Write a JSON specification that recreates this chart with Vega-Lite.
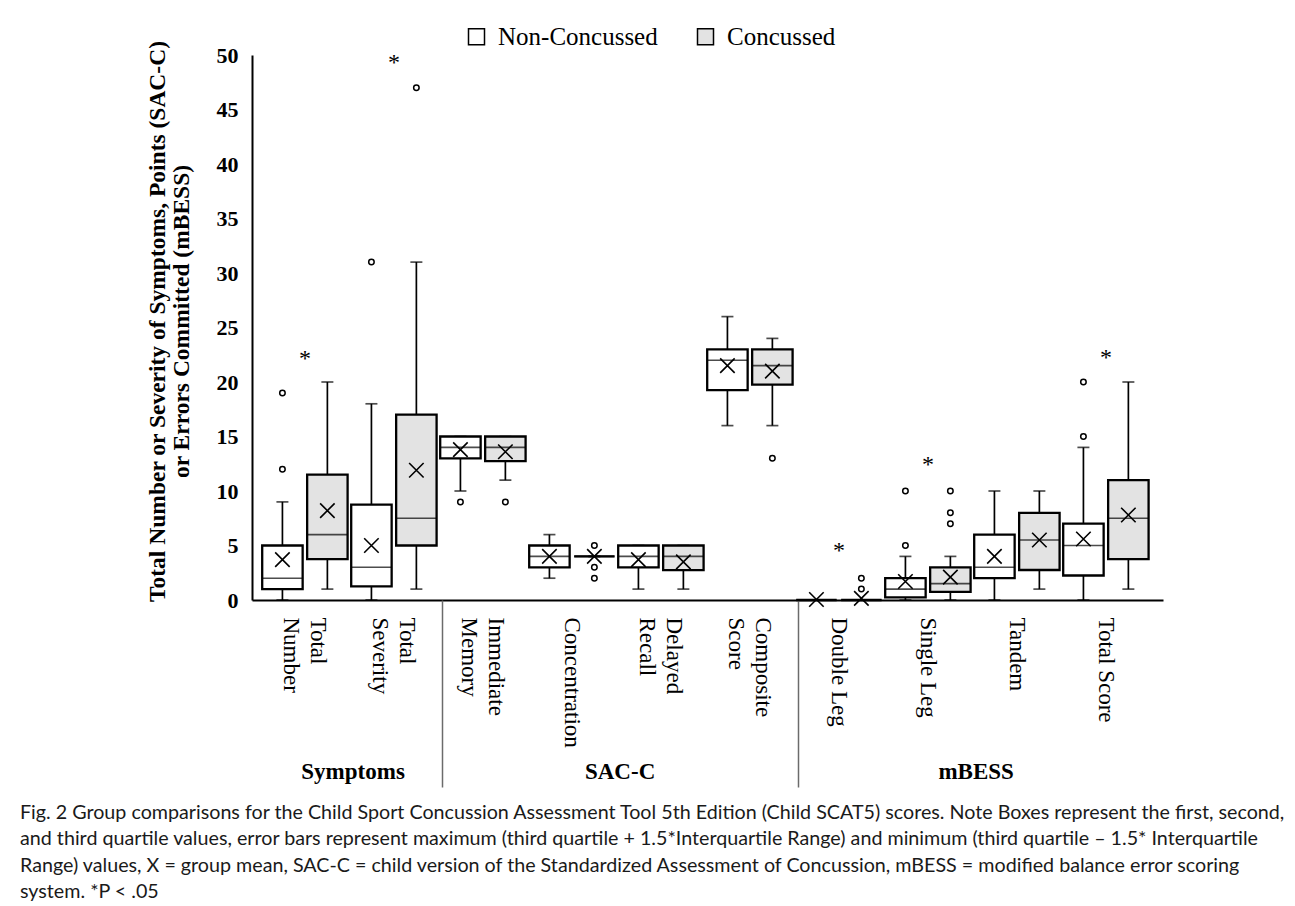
{
  "$schema": "https://vega.github.io/schema/vega-lite/v6.json",
  "width": 911,
  "height": 545,
  "autosize": {"type": "none"},
  "padding": {"left": 252, "top": 55, "right": 132, "bottom": 306},
  "background": "white",
  "config": {"view": {"stroke": null}, "font": "Liberation Serif"},
  "datasets": {
    "boxes": [
      {"measure": "Total Number", "group": "Non-Concussed", "lower": 0, "q1": 1, "median": 2, "q3": 5, "upper": 9, "mean": 3.7},
      {"measure": "Total Number", "group": "Concussed", "lower": 1, "q1": 3.75, "median": 6, "q3": 11.5, "upper": 20, "mean": 8.2},
      {"measure": "Total Severity", "group": "Non-Concussed", "lower": 0, "q1": 1.25, "median": 3, "q3": 8.75, "upper": 18, "mean": 5.0},
      {"measure": "Total Severity", "group": "Concussed", "lower": 1, "q1": 5, "median": 7.5, "q3": 17, "upper": 31, "mean": 11.9},
      {"measure": "Immediate Memory", "group": "Non-Concussed", "lower": 10, "q1": 13, "median": 14, "q3": 15, "upper": 15, "mean": 13.8},
      {"measure": "Immediate Memory", "group": "Concussed", "lower": 11, "q1": 12.75, "median": 14, "q3": 15, "upper": 15, "mean": 13.6},
      {"measure": "Concentration", "group": "Non-Concussed", "lower": 2, "q1": 3, "median": 4, "q3": 5, "upper": 6, "mean": 4.0},
      {"measure": "Concentration", "group": "Concussed", "lower": 4, "q1": 4, "median": 4, "q3": 4, "upper": 4, "mean": 4.0},
      {"measure": "Delayed Recall", "group": "Non-Concussed", "lower": 1, "q1": 3, "median": 4, "q3": 5, "upper": 5, "mean": 3.7},
      {"measure": "Delayed Recall", "group": "Concussed", "lower": 1, "q1": 2.75, "median": 4, "q3": 5, "upper": 5, "mean": 3.5},
      {"measure": "Composite Score", "group": "Non-Concussed", "lower": 16, "q1": 19.25, "median": 22, "q3": 23, "upper": 26, "mean": 21.5},
      {"measure": "Composite Score", "group": "Concussed", "lower": 16, "q1": 19.75, "median": 21.5, "q3": 23, "upper": 24, "mean": 21.0},
      {"measure": "Double Leg", "group": "Non-Concussed", "lower": 0, "q1": 0, "median": 0, "q3": 0, "upper": 0, "mean": 0.05},
      {"measure": "Double Leg", "group": "Concussed", "lower": 0, "q1": 0, "median": 0, "q3": 0, "upper": 0, "mean": 0.15},
      {"measure": "Single Leg", "group": "Non-Concussed", "lower": 0, "q1": 0.25, "median": 1, "q3": 2, "upper": 4, "mean": 1.7},
      {"measure": "Single Leg", "group": "Concussed", "lower": 0, "q1": 0.75, "median": 1.5, "q3": 3, "upper": 4, "mean": 2.1},
      {"measure": "Tandem", "group": "Non-Concussed", "lower": 0, "q1": 2, "median": 3, "q3": 6, "upper": 10, "mean": 4.0},
      {"measure": "Tandem", "group": "Concussed", "lower": 1, "q1": 2.75, "median": 5.5, "q3": 8, "upper": 10, "mean": 5.5},
      {"measure": "Total Score", "group": "Non-Concussed", "lower": 0, "q1": 2.25, "median": 5, "q3": 7, "upper": 14, "mean": 5.6},
      {"measure": "Total Score", "group": "Concussed", "lower": 1, "q1": 3.75, "median": 7.5, "q3": 11, "upper": 20, "mean": 7.8}
    ],
    "outliers": [
      {"measure": "Total Number", "group": "Non-Concussed", "value": 12},
      {"measure": "Total Number", "group": "Non-Concussed", "value": 19},
      {"measure": "Total Severity", "group": "Non-Concussed", "value": 31},
      {"measure": "Total Severity", "group": "Concussed", "value": 47},
      {"measure": "Immediate Memory", "group": "Non-Concussed", "value": 9},
      {"measure": "Immediate Memory", "group": "Concussed", "value": 9},
      {"measure": "Concentration", "group": "Concussed", "value": 5},
      {"measure": "Concentration", "group": "Concussed", "value": 3},
      {"measure": "Concentration", "group": "Concussed", "value": 2},
      {"measure": "Composite Score", "group": "Concussed", "value": 13},
      {"measure": "Double Leg", "group": "Concussed", "value": 1},
      {"measure": "Double Leg", "group": "Concussed", "value": 2},
      {"measure": "Single Leg", "group": "Non-Concussed", "value": 5},
      {"measure": "Single Leg", "group": "Non-Concussed", "value": 10},
      {"measure": "Single Leg", "group": "Concussed", "value": 7},
      {"measure": "Single Leg", "group": "Concussed", "value": 8},
      {"measure": "Single Leg", "group": "Concussed", "value": 10},
      {"measure": "Total Score", "group": "Non-Concussed", "value": 15},
      {"measure": "Total Score", "group": "Non-Concussed", "value": 20}
    ],
    "stars": [
      {"measure": "Total Number", "value": 22.6},
      {"measure": "Total Severity", "value": 49.7},
      {"measure": "Double Leg", "value": 5},
      {"measure": "Single Leg", "value": 12.8},
      {"measure": "Total Score", "value": 22.7}
    ],
    "separators": [{"pos": 2}, {"pos": 6}],
    "groups": [
      {"pos": 1, "name": "Symptoms"},
      {"pos": 4, "name": "SAC-C"},
      {"pos": 8, "name": "mBESS"}
    ]
  },
  "title": {
    "text": [
      "Fig. 2  Group comparisons for the Child Sport Concussion Assessment Tool 5th Edition (Child SCAT5) scores. Note Boxes represent the first, second,",
      "and third quartile values, error bars represent maximum (third quartile + 1.5*Interquartile Range) and minimum (third quartile – 1.5* Interquartile",
      "Range) values, X = group mean, SAC-C = child version of the Standardized Assessment of Concussion, mBESS = modified balance error scoring",
      "system. *P < .05"
    ],
    "orient": "bottom",
    "anchor": "start",
    "frame": "group",
    "dx": -232,
    "offset": 15,
    "font": "Lato",
    "fontSize": 19.7,
    "fontWeight": "normal",
    "lineHeight": 26.5,
    "color": "#1a1a1a"
  },
  "layer": [
    {
      "layer": [
        {
          "data": {"name": "boxes"},
          "encoding": {
            "x": {
              "field": "measure", "type": "nominal",
              "scale": {"domain": ["Total Number", "Total Severity", "Immediate Memory", "Concentration", "Delayed Recall", "Composite Score", "Double Leg", "Single Leg", "Tandem", "Total Score"], "paddingInner": 0, "paddingOuter": 0.118, "align": 0.4},
              "axis": {"orient": "bottom", "title": null, "labelAngle": 90, "labelAlign": "left", "labelBaseline": "middle", "labelPadding": 17, "labelFont": "Liberation Serif", "labelFontSize": 23, "labelColor": "black", "labelLineHeight": 27, "labelLimit": 400, "labelOverlap": false, "ticks": false, "tickSize": 0, "domainColor": "black", "domainWidth": 2, "grid": false,
                "labelOffset": {"condition": {"test": "indexof(['Total Number', 'Total Severity', 'Immediate Memory', 'Delayed Recall', 'Composite Score'], datum.value) >= 0", "value": 13.5}, "value": 0},
                "labelExpr": "datum.label == 'Total Number' ? ['Total', 'Number'] : datum.label == 'Total Severity' ? ['Total', 'Severity'] : datum.label == 'Immediate Memory' ? ['Immediate', 'Memory'] : datum.label == 'Delayed Recall' ? ['Delayed', 'Recall'] : datum.label == 'Composite Score' ? ['Composite', 'Score'] : datum.label"}
            },
            "xOffset": {"field": "group", "type": "nominal", "scale": {"domain": ["Non-Concussed", "Concussed"], "paddingInner": 0.1, "paddingOuter": 0.04}}
          },
          "layer": [
            {
              "mark": {"type": "rule", "color": "black", "strokeWidth": 1.7},
              "encoding": {
                "y": {"field": "lower", "type": "quantitative", "scale": {"domain": [0, 50], "nice": false, "zero": true},
                  "axis": {"title": ["Total Number or Severity of Symptoms, Points (SAC-C)", "or Errors Committed (mBESS)"], "titleFont": "Liberation Serif", "titleFontWeight": "bold", "titleFontSize": 23.5, "titleColor": "black", "titleLineHeight": 24, "titlePadding": 23, "titleY": 266, "labelFont": "Liberation Serif", "labelFontWeight": "bold", "labelFontSize": 22, "labelColor": "black", "labelPadding": 14, "ticks": false, "tickSize": 0, "grid": false, "domainColor": "black", "domainWidth": 2, "values": [0, 5, 10, 15, 20, 25, 30, 35, 40, 45, 50]}},
                "y2": {"field": "upper"}
              }
            },
            {
              "mark": {"type": "tick", "color": "black", "thickness": 1.7, "size": 12},
              "encoding": {"y": {"field": "lower", "type": "quantitative"}}
            },
            {
              "mark": {"type": "tick", "color": "black", "thickness": 1.7, "size": 12},
              "encoding": {"y": {"field": "upper", "type": "quantitative"}}
            },
            {
              "mark": {"type": "bar", "stroke": "black", "strokeWidth": 2.3, "opacity": 1},
              "encoding": {
                "y": {"field": "q1", "type": "quantitative"},
                "y2": {"field": "q3"},
                "fill": {"field": "group", "type": "nominal",
                  "scale": {"domain": ["Non-Concussed", "Concussed"], "range": ["#ffffff", "#e3e3e3"]},
                  "legend": {"orient": "none", "legendX": 212, "legendY": -31, "direction": "horizontal", "title": null, "symbolType": "square", "symbolSize": 256, "symbolStrokeColor": "black", "symbolStrokeWidth": 1.5, "symbolOpacity": 1, "labelFont": "Liberation Serif", "labelFontSize": 25, "labelColor": "black", "labelOffset": 9, "columnPadding": 35, "labelLimit": 400}}
              }
            },
            {
              "mark": {"type": "tick", "color": "black", "thickness": 1.6, "size": 40},
              "encoding": {"y": {"field": "median", "type": "quantitative"}}
            },
            {
              "mark": {"type": "point", "shape": "M-1,-1L1,1M-1,1L1,-1", "filled": false, "stroke": "black", "strokeWidth": 1.6, "size": 210, "opacity": 1},
              "encoding": {"y": {"field": "mean", "type": "quantitative"}}
            }
          ]
        },
        {
          "data": {"name": "outliers"},
          "mark": {"type": "point", "shape": "circle", "filled": true, "fill": "white", "stroke": "black", "strokeWidth": 1.5, "size": 30, "opacity": 1},
          "encoding": {
            "x": {"field": "measure", "type": "nominal", "axis": {"orient": "bottom", "title": null, "labelAngle": 90, "labelAlign": "left", "labelBaseline": "middle", "labelPadding": 17, "labelFont": "Liberation Serif", "labelFontSize": 23, "labelColor": "black", "labelLineHeight": 27, "labelLimit": 400, "labelOverlap": false, "ticks": false, "tickSize": 0, "domainColor": "black", "domainWidth": 2, "grid": false,
                "labelOffset": {"condition": {"test": "indexof(['Total Number', 'Total Severity', 'Immediate Memory', 'Delayed Recall', 'Composite Score'], datum.value) >= 0", "value": 13.5}, "value": 0},
                "labelExpr": "datum.label == 'Total Number' ? ['Total', 'Number'] : datum.label == 'Total Severity' ? ['Total', 'Severity'] : datum.label == 'Immediate Memory' ? ['Immediate', 'Memory'] : datum.label == 'Delayed Recall' ? ['Delayed', 'Recall'] : datum.label == 'Composite Score' ? ['Composite', 'Score'] : datum.label"}},
            "xOffset": {"field": "group", "type": "nominal"},
            "y": {"field": "value", "type": "quantitative"}
          }
        },
        {
          "data": {"name": "stars"},
          "mark": {"type": "text", "text": "*", "font": "Liberation Serif", "fontSize": 24, "dy": 5, "fill": "black", "color": "black", "opacity": 1},
          "encoding": {
            "x": {"field": "measure", "type": "nominal", "axis": {"orient": "bottom", "title": null, "labelAngle": 90, "labelAlign": "left", "labelBaseline": "middle", "labelPadding": 17, "labelFont": "Liberation Serif", "labelFontSize": 23, "labelColor": "black", "labelLineHeight": 27, "labelLimit": 400, "labelOverlap": false, "ticks": false, "tickSize": 0, "domainColor": "black", "domainWidth": 2, "grid": false,
                "labelOffset": {"condition": {"test": "indexof(['Total Number', 'Total Severity', 'Immediate Memory', 'Delayed Recall', 'Composite Score'], datum.value) >= 0", "value": 13.5}, "value": 0},
                "labelExpr": "datum.label == 'Total Number' ? ['Total', 'Number'] : datum.label == 'Total Severity' ? ['Total', 'Severity'] : datum.label == 'Immediate Memory' ? ['Immediate', 'Memory'] : datum.label == 'Delayed Recall' ? ['Delayed', 'Recall'] : datum.label == 'Composite Score' ? ['Composite', 'Score'] : datum.label"}},
            "y": {"field": "value", "type": "quantitative"}
          }
        }
      ]
    },
    {
      "data": {"name": "separators"},
      "mark": {"type": "point", "opacity": 0},
      "encoding": {
        "x": {"field": "pos", "type": "quantitative", "scale": {"domain": [-0.13, 10.105], "nice": false, "zero": false},
          "axis": {"orient": "bottom", "title": null, "values": [2, 6], "labels": false, "domain": false, "grid": false, "ticks": true, "tickSize": 187, "tickColor": "#6b6b6b", "tickWidth": 1.5}}
      }
    },
    {
      "data": {"name": "groups"},
      "mark": {"type": "point", "opacity": 0},
      "encoding": {
        "x": {"field": "pos", "type": "quantitative", "scale": {"domain": [-0.13, 10.105], "nice": false, "zero": false},
          "axis": {"orient": "bottom", "title": null, "values": [1, 4, 8], "labelExpr": "datum.value == 1 ? 'Symptoms' : datum.value == 4 ? 'SAC-C' : 'mBESS'", "labelFont": "Liberation Serif", "labelFontWeight": "bold", "labelFontSize": 23, "labelColor": "black", "labelPadding": 160, "labelBaseline": "top", "labelFlush": false, "labelOverlap": false, "domain": false, "grid": false, "ticks": false, "tickSize": 0}}
      }
    }
  ],
  "resolve": {"scale": {"x": "independent"}, "axis": {"x": "independent"}}
}
